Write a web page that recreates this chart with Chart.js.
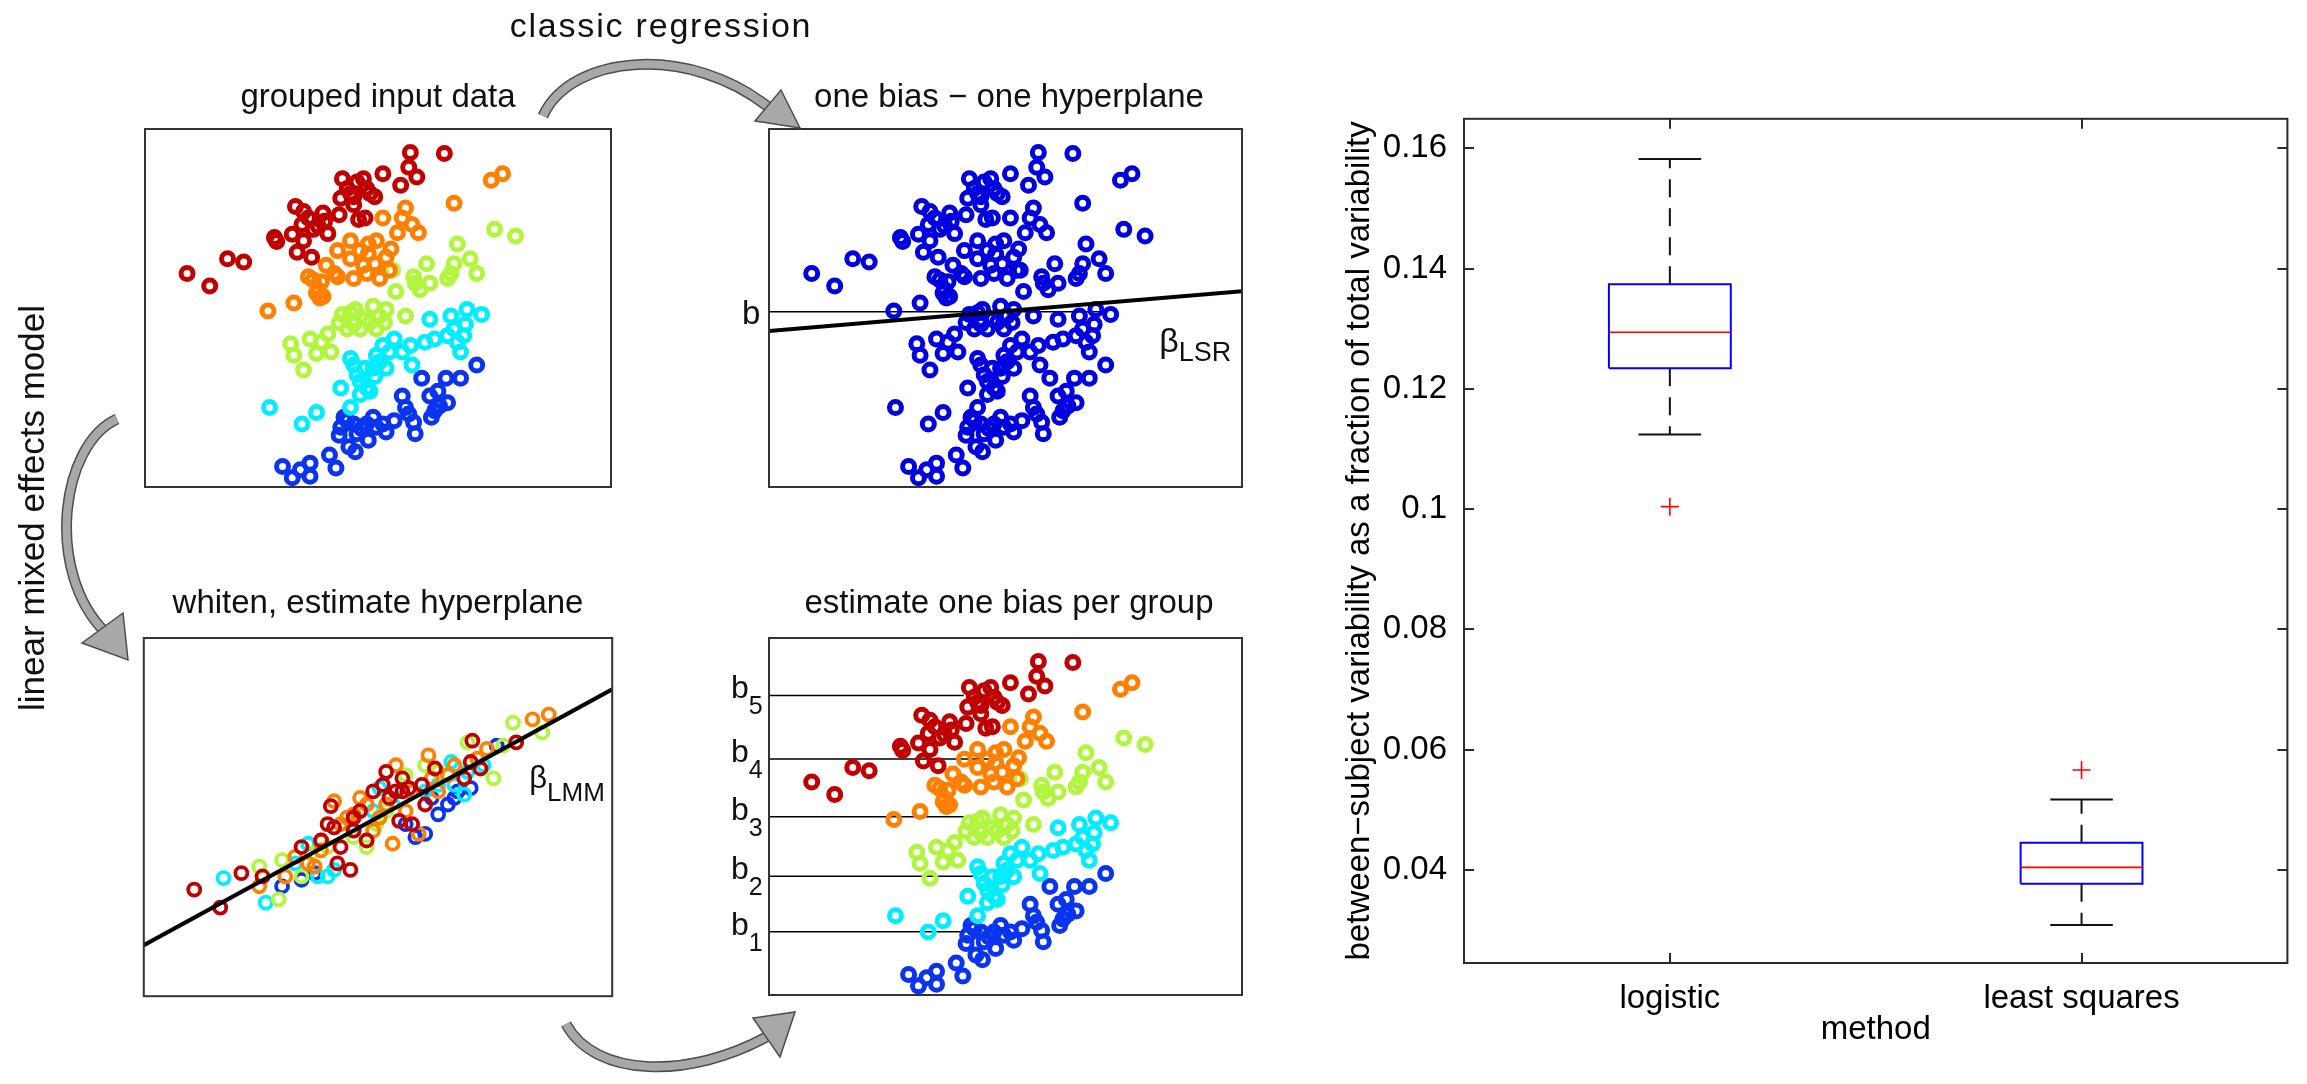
<!DOCTYPE html>
<html>
<head>
<meta charset="utf-8">
<title>Linear mixed effects model vs. classic regression</title>
<script src="https://cdn.jsdelivr.net/npm/chart.js@4.4.1/dist/chart.umd.min.js"></script>
<style>
  html, body { margin: 0; padding: 0; background: #fff; }
  body { position: relative; width: 2307px; height: 1084px; overflow: hidden;
         font-family: 'Liberation Sans', Arial, Helvetica, sans-serif; color: #111; }
  canvas { position: absolute; }
  svg { position: absolute; left: 0; top: 0; }
  .note { position: absolute; white-space: nowrap; line-height: 1; transform: translate(-50%, -50%); }
</style>
</head>
<body>
<canvas id="panelGrouped"  width="488" height="428" style="left:134px;top:70px"></canvas>
<canvas id="panelPooled"   width="533" height="428" style="left:720px;top:70px"></canvas>
<canvas id="panelWhitened" width="488" height="430" style="left:134px;top:576px"></canvas>
<canvas id="panelBiases"   width="533" height="430" style="left:720px;top:576px"></canvas>
<canvas id="boxChart"      width="968" height="960" style="left:1330px;top:90px"></canvas>

<!-- workflow arrows -->
<svg width="2307" height="1084">
  <g fill="none" stroke-linecap="butt">
    <path d="M543,116 C570,55 690,42 772,110" stroke="#4d4d4d" stroke-width="11"/>
    <path d="M543,116 C570,55 690,42 772,110" stroke="#a8a8a8" stroke-width="8"/>
    <path d="M117,419 C60,445 45,572 105,632" stroke="#4d4d4d" stroke-width="11"/>
    <path d="M117,419 C60,445 45,572 105,632" stroke="#a8a8a8" stroke-width="8"/>
    <path d="M566,1024 C595,1078 690,1080 770,1035" stroke="#4d4d4d" stroke-width="11"/>
    <path d="M566,1024 C595,1078 690,1080 770,1035" stroke="#a8a8a8" stroke-width="8"/>
  </g>
  <g fill="#a8a8a8" stroke="#4d4d4d" stroke-width="1.5" stroke-linejoin="miter">
    <polygon points="755,121 781,90 800,128"/>
    <polygon points="82,643 123,613 128,660"/>
    <polygon points="753,1018 780,1057 795,1012"/>
  </g>
</svg>
<div class="note" style="left:661px;top:25px;font-size:34px;letter-spacing:1.8px">classic regression</div>
<div class="note" style="left:31px;top:508px;font-size:35px;transform:translate(-50%,-50%) rotate(-90deg)">linear mixed effects model</div>

<script>
// ---------- grouped observations (arbitrary units) ----------
const group5X = [18.5,25.5,31.0,36.0,45.5,46.2,52.0,54.5,54.0,51.0,54.5,52.5,57.0,60.5,59.0,62.0,65.5,66.5,71.0,69.0,74.0,76.5,66.0,70.0,71.5,73.5,79.0,84.5,87.5,87.0,89.5,98.0,57.5,68.0,75.0,70.0,73.0,61.0,56.0];
const group5Y = [65.3,61.5,69.8,68.8,76.3,75.1,85.8,84.3,80.3,77.3,75.3,71.8,70.3,83.8,79.8,77.5,83.3,94.3,93.3,89.8,91.3,88.8,88.3,86.3,81.8,82.3,95.8,92.3,102.3,97.8,94.8,102.0,78.8,91.3,89.8,88.8,94.3,81.3,82.3];
const group4X = [43.5,51.5,56.0,58.5,60.0,61.5,65.0,65.0,69.0,69.0,70.0,73.0,74.5,77.0,76.5,78.0,81.0,81.5,79.0,86.0,88.0,90.0,83.5,101.0,112.5,116.0,59.5,74.0,57.5,59.0,60.5,64.0,72.0,74.5,80.0,85.0];
const group4Y = [53.8,56.3,64.3,59.3,62.8,67.8,64.3,72.3,75.3,69.8,63.8,67.8,71.3,75.3,68.3,63.8,66.3,72.8,82.3,85.3,80.3,77.8,77.8,86.8,93.8,95.8,57.8,65.3,63.3,60.3,58.3,65.3,72.3,74.3,70.3,82.3];
const group3X = [50.5,51.5,54.5,56.5,58.5,62.0,63.0,66.5,68.0,70.5,73.5,76.0,77.0,79.5,80.0,83.0,86.0,82.0,88.5,90.5,92.5,93.5,99.0,101.0,102.0,106.0,108.0,113.5,120.0,70.0,65.5,69.0,72.0,75.0,78.0,60.0,89.0,100.0];
const group3Y = [43.8,40.3,35.8,45.3,40.8,46.8,41.3,52.8,48.3,54.3,51.3,55.3,48.3,50.3,54.3,59.8,52.3,66.3,64.3,60.3,68.3,62.3,63.8,68.3,74.3,69.8,65.3,78.8,76.8,49.8,50.3,53.3,48.3,50.3,52.3,44.3,62.3,65.3];
const group2X = [44.0,54.0,58.5,66.0,69.0,69.0,71.0,73.5,75.0,77.0,79.0,80.0,82.5,85.0,87.5,88.0,92.0,93.5,95.0,99.0,100.0,102.0,103.0,104.5,105.0,109.5,72.0,76.5,70.0,72.0,74.0,76.0,78.0,81.0,101.0,104.0];
const group2Y = [24.3,19.3,22.8,30.3,24.3,39.3,34.3,36.3,29.3,40.3,43.3,36.3,45.3,41.3,43.3,37.3,44.3,51.3,45.3,46.3,52.3,44.3,41.3,49.8,54.3,52.8,28.3,33.8,37.3,32.3,30.3,36.3,38.3,41.3,48.3,46.3];
const group1X = [48.0,51.0,53.5,56.5,56.5,62.5,64.5,65.5,67.0,68.5,70.0,72.5,74.5,76.0,79.0,80.0,82.5,85.0,87.0,88.5,89.0,91.0,93.5,94.0,96.5,99.0,98.5,103.0,108.0,70.5,66.0,68.0,71.0,74.0,77.0,86.0,95.0,96.0];
const group1Y = [6.3,2.8,5.3,7.3,3.3,9.8,5.8,15.8,21.3,12.3,19.3,17.8,14.3,21.3,19.3,16.8,20.3,27.8,22.3,19.8,16.3,33.3,27.8,21.3,24.8,25.8,33.3,33.3,37.3,10.8,18.3,20.3,16.3,19.3,18.3,24.3,23.3,29.3];

// ---------- the same observations after whitening ----------
const white5X = [21.0,29.0,35.5,42.0,54.0,63.0,64.0,65.0,69.0,60.0,70.0,74.0,80.0,83.0,85.0,84.0,87.0,88.0,91.0,92.0,95.0,104.0,106.0,106.5,109.0,120.0,72.0,66.0,76.0,79.0,81.0,85.0,62.0,70.0];
const white5Y = [32.6,27.1,37.6,36.6,45.6,58.1,51.6,40.6,38.6,47.6,50.6,47.6,68.6,62.6,66.6,53.6,63.6,52.6,64.6,58.6,69.6,66.6,71.6,78.1,69.6,77.6,56.6,45.6,62.6,64.6,60.6,62.6,52.6,54.6];
const white4X = [41.0,49.0,56.0,58.0,64.0,66.0,70.0,72.0,76.0,78.0,82.0,83.0,86.0,90.0,93.0,96.0,99.0,101.0,111.0,125.0,130.0,60.0,52.0,60.0,68.0,74.0,80.0,88.0,94.0,108.0];
const white4Y = [33.6,36.6,40.6,39.6,59.6,52.6,55.6,60.6,50.6,54.6,46.6,70.6,56.6,49.6,73.6,62.6,67.6,70.6,75.6,84.6,86.1,44.6,42.6,47.6,54.6,58.6,58.6,62.6,66.6,72.6];
const white3X = [41.0,47.0,48.0,54.0,57.0,70.0,74.0,77.0,92.0,105.0,113.0,119.0,128.0,86.0,62.0,80.0,96.0,116.0];
const white3Y = [39.6,29.6,41.6,36.6,43.6,48.6,45.6,52.6,70.6,77.6,66.6,83.6,80.6,67.6,45.6,56.6,68.6,76.6];
const white2X = [30.0,43.0,56.0,59.0,62.0,64.0,78.0,85.0,100.0,101.0,104.0,105.0,110.0,52.0,70.0,76.0,92.0,96.0];
const white2Y = [36.1,28.6,46.6,36.6,36.6,38.6,63.6,60.6,71.6,64.6,61.6,68.6,70.6,40.6,50.6,56.6,62.6,64.6];
const white1X = [48.0,58.0,89.0,92.0,96.0,99.0,102.0,114.0,106.0,94.0,54.0,86.0,101.0];
const white1Y = [33.6,37.6,48.6,49.6,55.6,58.6,62.6,76.6,63.6,60.6,35.6,52.6,60.6];

// ---------- fitted lines and intercepts ----------
const lineX = [5.5, 149.5];
const lsrLineY = [47.7, 59.9];          // pooled least-squares fit
const pooledBias = 53.6;                 // single intercept b
const pooledBiasEndX = 108.7;
const lmmLineY = [15.6, 93.8];           // mixed-model fit on whitened data
const groupBiases = [19.4, 36.4, 54.7, 72.4, 91.9];   // b1 .. b5
const groupBiasEndX = [64.8, 68.3, 64.8, 72.8, 64.8];

// ---------- box plot summary ----------
const methods = ['logistic', 'least squares'];
const whiskerLow  = [0.1124, 0.0308];
const quartile1   = [0.1234, 0.0377];
const medians     = [0.1294, 0.0404];
const quartile3   = [0.1374, 0.0445];
const whiskerHigh = [0.1582, 0.0517];
const outliers    = [[0.1004], [0.0566]];
const yTickValues = [0.04, 0.06, 0.08, 0.1, 0.12, 0.14, 0.16];
const yTickLabels = ['0.04', '0.06', '0.08', '0.1', '0.12', '0.14', '0.16'];

// ---------- appearance ----------
const FONT = "'Liberation Sans', Arial, Helvetica, sans-serif";
const X_RANGE = [5.5, 149.5];
const Y_RANGE = [0, 109.5];
const groupColors = ['#0a34f0', '#00eeff', '#b2f53e', '#ff8000', '#c00000'];
const pooledColor = '#0000e0';
const BOX_HALF = 0.148;
const CAP_HALF = 0.076;
const LSR_LABEL_AT = [124.3, 41.2];
const LMM_LABEL_AT = [124.0, 63.6];

Chart.defaults.font.family = FONT;
Chart.defaults.color = '#111';
Chart.defaults.animation = false;
Chart.defaults.events = [];
Chart.defaults.plugins.legend.display = false;
Chart.defaults.plugins.tooltip.enabled = false;

const pts = (xs, ys) => xs.map((x, i) => ({ x, y: ys[i] }));
const groupsX = [group1X, group2X, group3X, group4X, group5X];
const groupsY = [group1Y, group2Y, group3Y, group4Y, group5Y];
const whiteX = [white1X, white2X, white3X, white4X, white5X];
const whiteY = [white1Y, white2Y, white3Y, white4Y, white5Y];

function ringSet(label, data, color, width) {
  return {
    label, data, showLine: false, clip: 0,
    borderColor: color, backgroundColor: 'rgba(0,0,0,0)',
    pointBorderColor: color, pointBackgroundColor: 'rgba(0,0,0,0)',
    pointRadius: 6, pointBorderWidth: width, pointStyle: 'circle'
  };
}
function lineSet(label, data, width) {
  return { label, data, showLine: true, spanGaps: false, clip: 0, borderColor: '#000',
           borderWidth: width, pointRadius: 0, tension: 0 };
}
// rings listed from top-most (red) to bottom-most (blue)
function coloredGroups(xs, ys, width) {
  const out = [];
  for (let g = 4; g >= 0; g--) out.push(ringSet('group ' + (g + 1), pts(xs[g], ys[g]), groupColors[g], width));
  return out;
}

const framePlugin = {
  id: 'frame',
  afterDatasetsDraw(chart) {
    const { ctx, chartArea: a } = chart;
    ctx.save();
    ctx.strokeStyle = '#333';
    ctx.lineWidth = 2;
    ctx.strokeRect(a.left, a.top, a.right - a.left, a.bottom - a.top);
    ctx.restore();
  }
};

function drawSub(ctx, x, y, main, sub, mainSize, subSize, drop) {
  ctx.textAlign = 'left';
  ctx.textBaseline = 'alphabetic';
  ctx.font = mainSize + 'px ' + FONT;
  ctx.fillText(main, x, y);
  const w = ctx.measureText(main).width;
  ctx.font = subSize + 'px ' + FONT;
  ctx.fillText(sub, x + w, y + drop);
}

function panelConfig(title, datasets, pad, titlePad, extra) {
  return {
    type: 'scatter',
    data: { datasets },
    options: {
      responsive: false, devicePixelRatio: 1,
      layout: { padding: pad },
      scales: {
        x: { type: 'linear', display: false, min: X_RANGE[0], max: X_RANGE[1] },
        y: { type: 'linear', display: false, min: Y_RANGE[0], max: Y_RANGE[1] }
      },
      plugins: {
        title: { display: true, text: title, color: '#111',
                 font: { size: 33, weight: 'normal', lineHeight: 1.2 }, padding: titlePad }
      }
    },
    plugins: [framePlugin].concat(extra || [])
  };
}

// grouped input data
new Chart(document.getElementById('panelGrouped'), panelConfig(
  'grouped input data',
  coloredGroups(groupsX, groupsY, 5),
  { left: 4, right: 4, top: 0, bottom: 4 }, { top: 8, bottom: 11.4 }));

// one bias - one hyperplane
const pooledData = [];
for (let g = 4; g >= 0; g--) pooledData.push(...pts(groupsX[g], groupsY[g]));
const pooledLabels = {
  id: 'pooledLabels',
  afterDraw(chart) {
    const { ctx, chartArea: a, scales: { x, y } } = chart;
    ctx.save();
    ctx.fillStyle = '#111';
    drawSub(ctx, a.left - 27, y.getPixelForValue(pooledBias) + 12, 'b', '', 33, 27, 0);
    drawSub(ctx, x.getPixelForValue(LSR_LABEL_AT[0]), y.getPixelForValue(LSR_LABEL_AT[1]), 'β', 'LSR', 34, 27, 9);
    ctx.restore();
  }
};
new Chart(document.getElementById('panelPooled'), panelConfig(
  'one bias \u2212 one hyperplane',
  [
    lineSet('least squares fit', pts(lineX, lsrLineY), 4),
    ringSet('all observations', pooledData, pooledColor, 5),
    lineSet('bias', [{ x: X_RANGE[0], y: pooledBias }, { x: pooledBiasEndX, y: pooledBias }], 1.5)
  ],
  { left: 49, right: 4, top: 0, bottom: 4 }, { top: 8, bottom: 11.4 }, [pooledLabels]));

// whiten, estimate hyperplane
const whitenedLabels = {
  id: 'whitenedLabels',
  afterDraw(chart) {
    const { ctx, scales: { x, y } } = chart;
    ctx.save();
    ctx.fillStyle = '#111';
    drawSub(ctx, x.getPixelForValue(LMM_LABEL_AT[0]), y.getPixelForValue(LMM_LABEL_AT[1]), 'β', 'LMM', 31, 26, 13);
    ctx.restore();
  }
};
new Chart(document.getElementById('panelWhitened'), panelConfig(
  'whiten, estimate hyperplane',
  [lineSet('mixed model fit', pts(lineX, lmmLineY), 4)].concat(coloredGroups(whiteX, whiteY, 3.8)),
  { left: 4, right: 4, top: 0, bottom: 4 }, { top: 8, bottom: 14.4 }, [whitenedLabels]));

// estimate one bias per group
const biasSegments = [];
groupBiases.forEach((b, i) => {
  biasSegments.push({ x: X_RANGE[0], y: b }, { x: groupBiasEndX[i], y: b }, { x: groupBiasEndX[i], y: null });
});
const biasLabels = {
  id: 'biasLabels',
  afterDraw(chart) {
    const { ctx, chartArea: a, scales: { y } } = chart;
    ctx.save();
    ctx.fillStyle = '#111';
    groupBiases.forEach((b, i) => {
      drawSub(ctx, a.left - 38, y.getPixelForValue(b) + 3, 'b', String(i + 1), 32, 25, 16);
    });
    ctx.restore();
  }
};
new Chart(document.getElementById('panelBiases'), panelConfig(
  'estimate one bias per group',
  coloredGroups(groupsX, groupsY, 5).concat([lineSet('group biases', biasSegments, 1.5)]),
  { left: 49, right: 4, top: 0, bottom: 4 }, { top: 8, bottom: 14.4 }, [biasLabels]));

// ---------- box plot ----------
const boxOutline = [], medianSegs = [], whiskerSegs = [], capSegs = [], outlierPts = [];
methods.forEach((m, i) => {
  const c = i + 1;
  boxOutline.push(
    { x: c - BOX_HALF, y: quartile1[i] }, { x: c + BOX_HALF, y: quartile1[i] },
    { x: c + BOX_HALF, y: quartile3[i] }, { x: c - BOX_HALF, y: quartile3[i] },
    { x: c - BOX_HALF, y: quartile1[i] }, { x: c, y: null });
  medianSegs.push({ x: c - BOX_HALF, y: medians[i] }, { x: c + BOX_HALF, y: medians[i] }, { x: c, y: null });
  whiskerSegs.push(
    { x: c, y: quartile3[i] }, { x: c, y: whiskerHigh[i] }, { x: c, y: null },
    { x: c, y: quartile1[i] }, { x: c, y: whiskerLow[i] }, { x: c, y: null });
  capSegs.push(
    { x: c - CAP_HALF, y: whiskerHigh[i] }, { x: c + CAP_HALF, y: whiskerHigh[i] }, { x: c, y: null },
    { x: c - CAP_HALF, y: whiskerLow[i] }, { x: c + CAP_HALF, y: whiskerLow[i] }, { x: c, y: null });
  outliers[i].forEach(v => outlierPts.push({ x: c, y: v }));
});

const TICK_LEN = 10;
const boxAxesPlugin = {
  id: 'boxAxes',
  afterDatasetsDraw(chart) {
    const { ctx, chartArea: a, scales: { x, y } } = chart;
    ctx.save();
    ctx.strokeStyle = '#2b2b2b';
    ctx.lineWidth = 2;
    ctx.beginPath();
    y.ticks.forEach(t => {
      const p = Math.round(y.getPixelForValue(t.value));
      ctx.moveTo(a.left, p); ctx.lineTo(a.left + TICK_LEN, p);
      ctx.moveTo(a.right, p); ctx.lineTo(a.right - TICK_LEN, p);
    });
    x.ticks.forEach(t => {
      const p = Math.round(x.getPixelForValue(t.value));
      ctx.moveTo(p, a.bottom); ctx.lineTo(p, a.bottom - TICK_LEN);
      ctx.moveTo(p, a.top); ctx.lineTo(p, a.top + TICK_LEN);
    });
    ctx.stroke();
    ctx.strokeRect(a.left, a.top, a.right - a.left, a.bottom - a.top);
    ctx.restore();
  }
};

new Chart(document.getElementById('boxChart'), {
  type: 'scatter',
  data: {
    datasets: [
      { label: 'outliers', data: outlierPts, showLine: false, pointStyle: 'cross', pointRadius: 9,
        pointBorderColor: '#ff0000', borderColor: '#ff0000', pointBorderWidth: 1.6 },
      { label: 'median', data: medianSegs, showLine: true, spanGaps: false, borderColor: '#ff0000',
        borderWidth: 1.6, pointRadius: 0 },
      { label: 'box', data: boxOutline, showLine: true, spanGaps: false, borderColor: '#0000ff',
        borderWidth: 2, pointRadius: 0, borderJoinStyle: 'miter' },
      { label: 'whisker caps', data: capSegs, showLine: true, spanGaps: false, borderColor: '#111',
        borderWidth: 2, pointRadius: 0 },
      { label: 'whiskers', data: whiskerSegs, showLine: true, spanGaps: false, borderColor: '#111',
        borderWidth: 2, borderDash: [18, 11], pointRadius: 0 }
    ]
  },
  options: {
    responsive: false, devicePixelRatio: 1,
    layout: { padding: { top: 10, right: 10, bottom: 0, left: 0 } },
    scales: {
      x: {
        type: 'linear', min: 0.5, max: 2.5, offset: false,
        grid: { display: false }, border: { display: false },
        afterBuildTicks: s => { s.ticks = methods.map((m, i) => ({ value: i + 1 })); },
        afterFit: s => { s.height = 87; },
        ticks: { color: '#000', font: { size: 33 }, padding: 8, maxRotation: 0, autoSkip: false,
                 callback: (v, i) => methods[i] },
        title: { display: true, text: 'method', color: '#000', font: { size: 33 }, padding: { top: 0, bottom: 0 } }
      },
      y: {
        type: 'linear', min: 0.0245, max: 0.1649,
        grid: { display: false }, border: { display: false },
        afterBuildTicks: s => { s.ticks = yTickValues.map(v => ({ value: v })); },
        afterFit: s => { s.width = 134; },
        ticks: { color: '#000', font: { size: 33 }, padding: 9, autoSkip: false,
                 callback: (v, i) => yTickLabels[i] },
        title: { display: true, text: 'between\u2212subject variability as a fraction of total variability',
                 color: '#000', font: { size: 33 }, padding: { top: 10, bottom: 0 } }
      }
    }
  },
  plugins: [boxAxesPlugin]
});
</script>
</body>
</html>
